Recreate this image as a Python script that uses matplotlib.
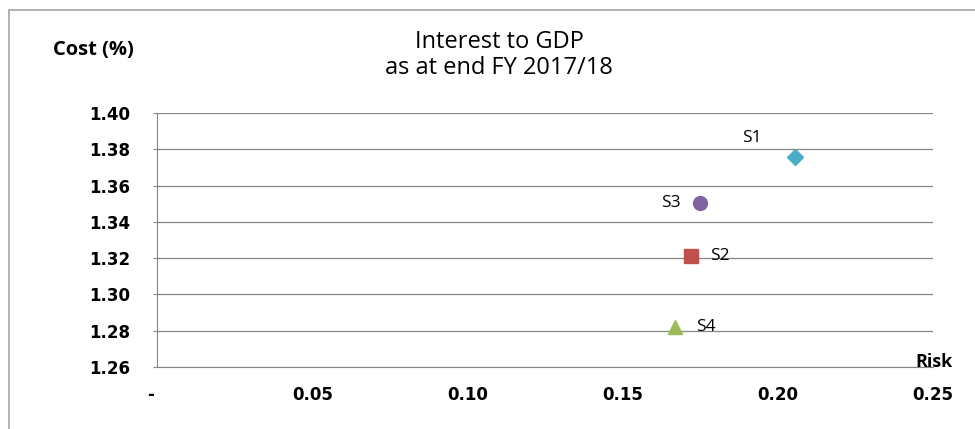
import matplotlib
matplotlib.use("Agg")
import matplotlib.pyplot as plt
from matplotlib.patches import Rectangle

# Данні з графіка
names = ["S1", "S2", "S3", "S4"]
risk = [0.2055, 0.172, 0.175, 0.167]
cost = [1.3757, 1.3212, 1.3504, 1.282]
markers = ["D", "s", "o", "^"]
colors = ["#4BACC6", "#C0504D", "#8064A2", "#9BBB59"]
label_offsets = [(-24, 14), (14, 0), (-14, 0), (15, 0)]
yticks = [1.26, 1.28, 1.30, 1.32, 1.34, 1.36, 1.38, 1.40]
xticks = [0, 0.05, 0.10, 0.15, 0.20, 0.25]
xticklabels = ["-  ", "0.05", "0.10", "0.15", "0.20", "0.25"]

plt.rcParams["font.family"] = ["DejaVu Sans"]

fig = plt.figure(figsize=(9.75, 4.29), dpi=100)
ax = fig.add_axes([0.161, 0.1445, 0.796, 0.592])

# Рамка діаграми
fig.patches.append(Rectangle((9 / 975, -0.1), 1.2, 1 - 10 / 429 + 0.1,
                             transform=fig.transFigure, fill=False,
                             edgecolor="#A6A6A6", linewidth=1.2))

for n, x, y, m, c, off in zip(names, risk, cost, markers, colors, label_offsets):
    size = 8 if m == "D" else 10
    ax.plot(x, y, marker=m, color=c, markersize=size, linestyle="none", zorder=3)
    ax.annotate(n, (x, y), xytext=off, textcoords="offset points",
                ha="left" if off[0] > 0 else "right", va="center",
                fontsize=12.5, family="Open Sans")

ax.set_xlim(0, 0.25)
ax.set_ylim(1.26, 1.40)
ax.set_yticks(yticks)
ax.set_yticklabels([f"{v:.2f}" for v in yticks], fontsize=12, fontweight="bold")
ax.set_xticks(xticks)
ax.set_xticklabels(xticklabels, fontsize=12, fontweight="bold")
ax.tick_params(axis="x", length=0, pad=14)
ax.tick_params(axis="y", length=3, color="#868686", pad=16)
ax.grid(axis="y", color="#868686", linewidth=0.9)
ax.set_axisbelow(True)
for s in ["top", "right"]:
    ax.spines[s].set_visible(False)
for s in ["left", "bottom"]:
    ax.spines[s].set_color("#868686")

fig.text(0.512, 0.872, "Interest to GDP\nas at end FY 2017/18", ha="center", va="center",
         fontsize=17, family="Open Sans", linespacing=1.15)
fig.text(0.054, 0.884, "Cost (%)", ha="left", va="center", fontsize=14.5,
         fontweight="bold", family="Open Sans")
fig.text(0.958, 0.156, "Risk", ha="center", va="center", fontsize=13,
         fontweight="bold", family="Open Sans")

fig.savefig("out.png", dpi=100)
